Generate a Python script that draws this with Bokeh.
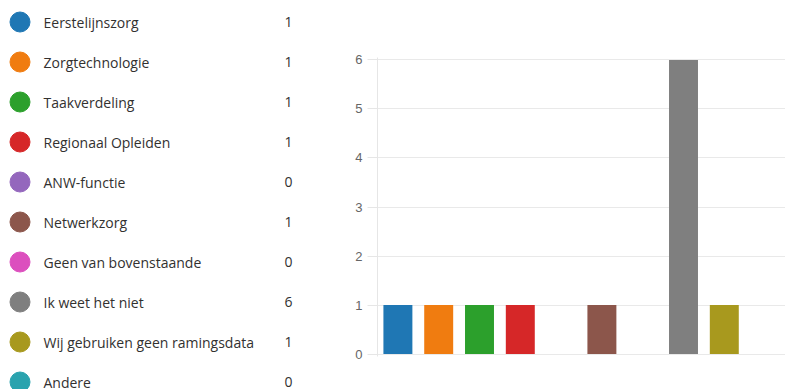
from bokeh.plotting import figure
from bokeh.layouts import row
from bokeh.models import ColumnDataSource, FactorRange, Range1d, FixedTicker
from bokeh.core.properties import value
from bokeh.embed import file_html
from bokeh.resources import INLINE

categories = ["Eerstelijnszorg", "Zorgtechnologie", "Taakverdeling", "Regionaal Opleiden",
              "ANW-functie", "Netwerkzorg", "Geen van bovenstaande", "Ik weet het niet",
              "Wij gebruiken geen ramingsdata", "Andere"]
counts = [1, 1, 1, 1, 0, 1, 0, 6, 1, 0]
colors = ["#1f77b4", "#f07c10", "#2ca02c", "#d62728", "#9467bd",
          "#8c564b", "#dc4fbe", "#7f7f7f", "#a8991e", "#2aa3ae"]
y_ticks = [0, 1, 2, 3, 4, 5, 6]

# ---- legend panel (left) ----
ROW0, ROWSTEP = 21.5, 40
leg = ColumnDataSource(dict(
    label=categories,
    count=[str(c) for c in counts],
    color=colors,
    y=[ROW0 + i * ROWSTEP for i in range(len(categories))],
))

left = figure(width=330, height=389, x_range=Range1d(0, 330), y_range=Range1d(389, 0),
              x_axis_type=None, y_axis_type=None, toolbar_location=None,
              output_backend="svg", min_border=0, outline_line_color=None)
left.frame_align = False
left.xgrid.visible = False
left.ygrid.visible = False
left.scatter(x=19.5, y="y", size=20, color="color", source=leg)
left.text(x=43, y="y", text="label", source=leg, text_baseline="middle", text_align="left",
          text_font=value("Open Sans"), text_font_size="14px", text_color="#323130")
left.text(x=288, y="y", text="count", source=leg, text_baseline="middle", text_align="center",
          text_font=value("Open Sans"), text_font_size="14px", text_color="#323130")

# ---- bar chart (right) ----
src = ColumnDataSource(dict(cat=categories, val=counts, color=colors))
right = figure(width=455, height=389, x_range=FactorRange(*categories),
               y_range=Range1d(-0.05, 6.05), x_axis_location=None,
               toolbar_location=None, output_backend="svg",
               min_border_left=47, min_border_right=0, min_border_top=57, min_border_bottom=33,
               outline_line_color=None)
right.frame_align = False
right.x_range.range_padding = 0
right.vbar(x="cat", top="val", width=0.71, color="color", line_color=None, source=src)
right.xgrid.visible = False
right.ygrid.grid_line_color = "#e9e9e9"
right.ygrid.ticker = FixedTicker(ticks=y_ticks)
right.yaxis.ticker = FixedTicker(ticks=y_ticks)
right.yaxis.axis_line_color = "#e6e6e6"
right.yaxis.major_tick_line_color = "#e6e6e6"
right.yaxis.major_tick_out = 10
right.yaxis.major_tick_in = 0
right.yaxis.minor_tick_line_color = None
right.yaxis.major_label_standoff = 5
right.yaxis.major_label_text_font = "Liberation Sans"
right.yaxis.major_label_text_font_size = "13px"
right.yaxis.major_label_text_color = "#666666"

layout = row(left, right)
open("out.html", "w").write(file_html(layout, INLINE))
